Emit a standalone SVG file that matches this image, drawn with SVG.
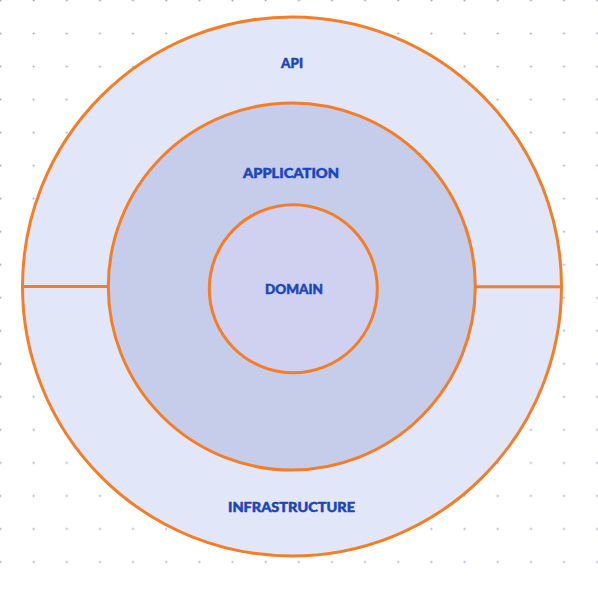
<svg xmlns="http://www.w3.org/2000/svg" width="598" height="592" viewBox="0 0 598 592">
  <defs>
    <pattern id="dots" x="0" y="0" width="33.15" height="33.03" patternUnits="userSpaceOnUse">
      <circle cx="0.5" cy="0.5" r="1" fill="#a9a9c6"/>
      <circle cx="33.65" cy="0.5" r="1" fill="#a9a9c6"/>
      <circle cx="0.5" cy="33.53" r="1" fill="#a9a9c6"/>
      <circle cx="33.65" cy="33.53" r="1" fill="#a9a9c6"/>
    </pattern>
    <style>
      .ring { stroke: #f47d27; stroke-width: 3; }
      .lbl { font-family: "Lato", "Open Sans", "Liberation Sans", sans-serif; font-weight: 900; font-size: 14px; fill: #1a45bc; stroke: #1a45bc; stroke-width: 0.5; text-anchor: middle; }
    </style>
  </defs>
  <rect x="0" y="0" width="598" height="592" fill="#ffffff"/>
  <rect x="0" y="0" width="598" height="592" fill="url(#dots)"/>

  <g id="api">
    <circle class="ring" cx="292" cy="286.5" r="269.5" fill="#e1e7f8"/>
    <text class="lbl" x="292" y="68" textLength="22" lengthAdjust="spacingAndGlyphs">API</text>
  </g>
  <g id="infrastructure">
    <text class="lbl" x="291.5" y="512" textLength="127" lengthAdjust="spacingAndGlyphs">INFRASTRUCTURE</text>
  </g>
  <g id="connectors">
    <line class="ring" x1="22.5" y1="286.5" x2="108.5" y2="286.5"/>
    <line class="ring" x1="475" y1="286.8" x2="561.5" y2="286.8"/>
  </g>
  <g id="application">
    <circle class="ring" cx="291.8" cy="286.5" r="183.5" fill="#c5cdea"/>
    <text class="lbl" x="291" y="177.5" textLength="96" lengthAdjust="spacingAndGlyphs">APPLICATION</text>
  </g>
  <g id="domain">
    <circle class="ring" cx="293.3" cy="288.8" r="84" fill="#d0d1f0"/>
    <text class="lbl" x="294" y="294" textLength="58" lengthAdjust="spacingAndGlyphs">DOMAIN</text>
  </g>
</svg>
